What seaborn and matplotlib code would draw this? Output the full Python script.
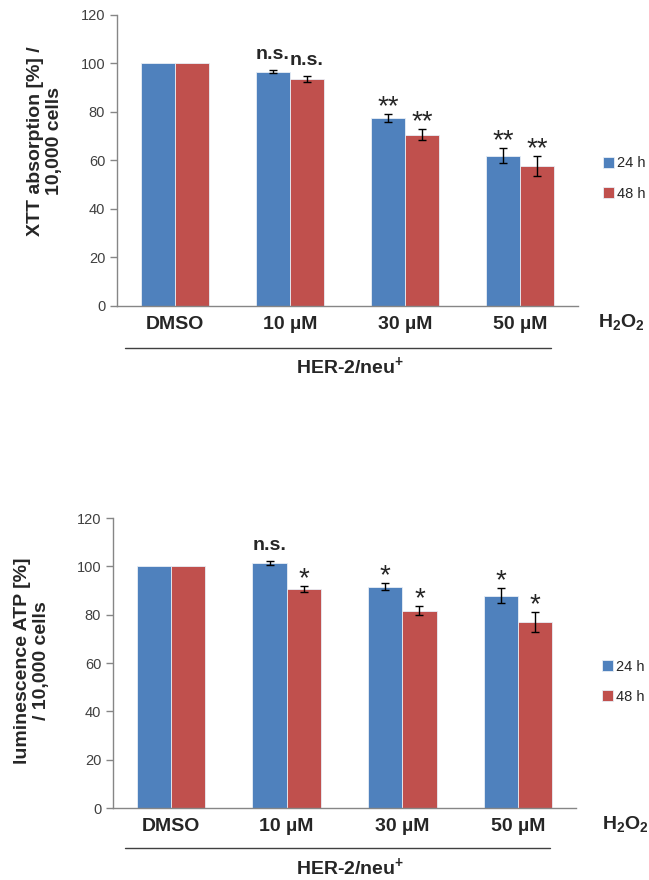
import numpy as np
import pandas as pd
import matplotlib
matplotlib.use('Agg')
import matplotlib.pyplot as plt
import seaborn as sns

# values
conc = ['DMSO', '10 µM', '30 µM', '50 µM']
times = ['24 h', '48 h']

xtt_24 = [100, 96.6, 77.5, 62.0]
xtt_24_sd = [0, 0.5, 1.5, 3.2]
xtt_48 = [100, 93.5, 70.6, 57.7]
xtt_48_sd = [0, 1.2, 2.2, 4.0]
xtt_sig_24 = ['', 'n.s.', '**', '**']
xtt_sig_48 = ['', 'n.s.', '**', '**']

atp_24 = [100, 101.5, 91.6, 87.9]
atp_24_sd = [0, 0.8, 1.4, 3.2]
atp_48 = [100, 90.6, 81.7, 76.9]
atp_48_sd = [0, 1.2, 2.0, 4.1]
atp_sig_24 = ['', 'n.s.', '*', '*']
atp_sig_48 = ['', '*', '*', '*']

sns.set_style('white')
plt.rcParams['font.family'] = ['Liberation Sans', 'DejaVu Sans']
plt.rcParams['mathtext.fontset'] = 'custom'
plt.rcParams['mathtext.rm'] = 'Liberation Sans'
plt.rcParams['mathtext.bf'] = 'Liberation Sans:bold'

colors = ['#4F81BD', '#C0504D']
spine_col = '#868686'


def panel(ax, v24, s24, v48, s48, sig24, sig48, ylabel, lab_xy, leg_xy, line_x, line_y, her_xy, h2o2_x):
    df = pd.DataFrame({
        'conc': conc * 2,
        'time': [times[0]] * 4 + [times[1]] * 4,
        'value': v24 + v48,
    })
    sns.barplot(data=df, x='conc', y='value', hue='time', order=conc, hue_order=times,
                palette=colors, width=0.59, errorbar=None, saturation=1,
                edgecolor='#e8eef6', linewidth=0.6, ax=ax)

    sds = [s24, s48]
    sigs = [sig24, sig48]
    for cont, sd, sig in zip(ax.containers, sds, sigs):
        for bar, e, s in zip(cont.patches, sd, sig):
            xc = bar.get_x() + bar.get_width() / 2
            h = bar.get_height()
            if e > 0:
                ax.errorbar(xc, h, yerr=e, color='black', elinewidth=1, capsize=3.2,
                            capthick=1, zorder=5)
            if s == 'n.s.':
                ax.annotate(s, (xc, h + e), xytext=(0, 8), textcoords='offset points',
                            ha='center', va='baseline', fontsize=14, fontweight='bold')
            elif s:
                # stars
                ax.annotate(s, (xc, h + e), xytext=(0, 0), textcoords='offset points',
                            ha='center', va='baseline', fontsize=20)

    ax.set_ylim(0, 120)
    ax.set_yticks(np.arange(0, 121, 20))
    ax.set_xlim(-0.5, 3.5)
    ax.set_xticks(np.arange(-0.5, 4, 1), minor=True)
    ax.tick_params(axis='x', which='major', length=0, pad=7, labelsize=14)
    ax.tick_params(axis='x', which='minor', length=5, color=spine_col, width=1, direction='out')
    ax.tick_params(axis='y', length=5, color=spine_col, width=1, direction='out',
                   labelsize=10.5, labelcolor='#404040', left=True)
    for lab in ax.get_xticklabels():
        lab.set_fontweight('bold')
    ax.set_xlabel('')
    ax.set_ylabel('')
    sns.despine(ax=ax)
    for sp in ['left', 'bottom']:
        ax.spines[sp].set_color(spine_col)
        ax.spines[sp].set_linewidth(1)

    ax.text(lab_xy[0], lab_xy[1], ylabel, transform=ax.transAxes, rotation=90,
            ha='center', va='center', multialignment='center', fontsize=14,
            fontweight='bold', linespacing=1.15)

    ax.legend(loc='center left', bbox_to_anchor=leg_xy, frameon=False, fontsize=10.5,
              handlelength=0.75, handleheight=0.75, handletextpad=0.2,
              labelspacing=1.1, borderpad=0, borderaxespad=0, labelcolor='#262626')

    ax.plot(line_x, [line_y, line_y], transform=ax.transAxes, color='#404040', lw=1,
            clip_on=False)
    ax.text(her_xy[0], her_xy[1], 'HER-2/neu$^{\\mathbf{+}}$', transform=ax.transAxes,
            ha='center', va='center', fontsize=14, fontweight='bold')
    ax.text(h2o2_x, -0.055, '$\\mathbf{H_2O_2}$', transform=ax.transAxes,
            ha='center', va='center', fontsize=14)


fig = plt.figure(figsize=(6.49, 8.8), dpi=100)
ax1 = fig.add_axes([0.1803, 0.6523, 0.7103, 0.3307])
ax2 = fig.add_axes([0.1741, 0.0818, 0.7134, 0.3295])

panel(ax1, xtt_24, xtt_24_sd, xtt_48, xtt_48_sd, xtt_sig_24, xtt_sig_48,
      'XTT absorption [%] /\n10,000 cells', (-0.157, 0.567), (1.054, 0.438),
      [0.017, 0.941], -0.144, (0.505, -0.210), 1.093)
panel(ax2, atp_24, atp_24_sd, atp_48, atp_48_sd, atp_sig_24, atp_sig_48,
      'luminescence ATP [%]\n/ 10,000 cells', (-0.174, 0.507), (1.056, 0.435),
      [0.026, 0.944], -0.138, (0.512, -0.207), 1.106)

fig.savefig('out.png', dpi=100)
